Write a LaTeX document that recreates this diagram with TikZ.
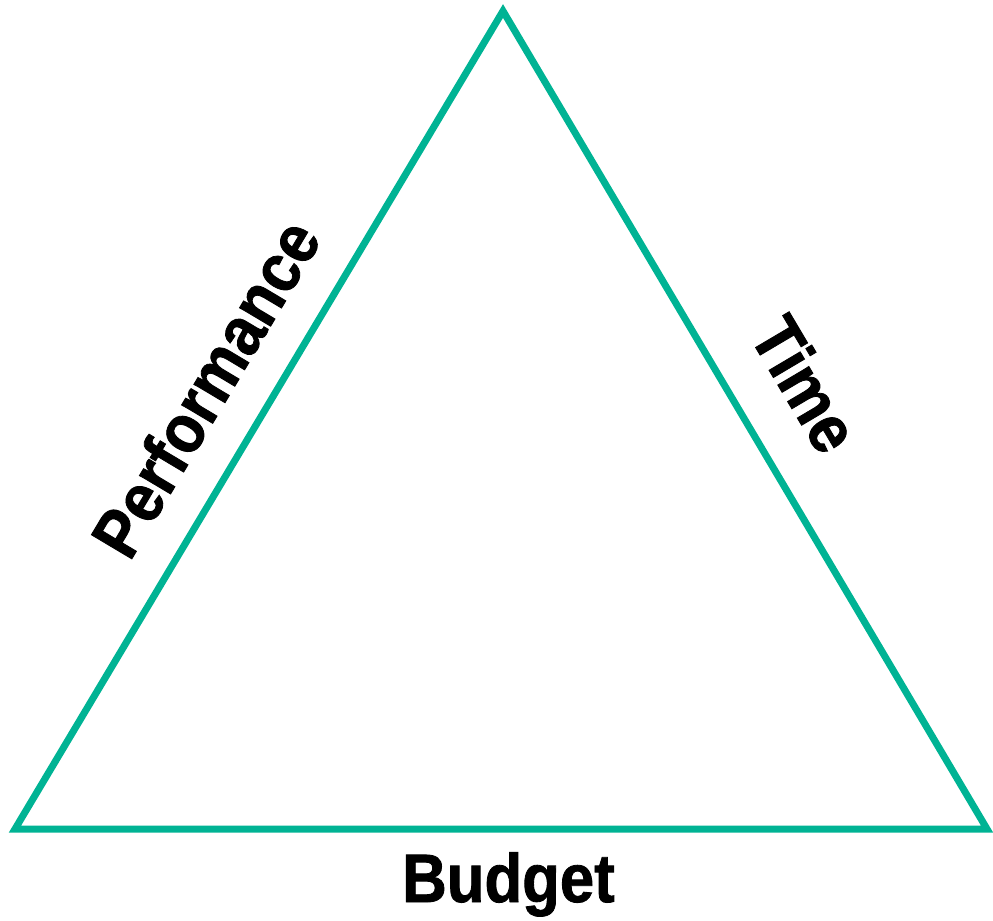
\documentclass[tikz,border=0pt]{standalone}
\usepackage{fontspec}
\setmainfont{Liberation Sans}
\newfontfamily\labelfont[FakeStretch=0.9, FakeBold=1.2]{Liberation Sans Bold}
\usetikzlibrary{calc, positioning}
\definecolor{triteal}{HTML}{00B394}

\begin{document}
\begin{tikzpicture}[
    edge label/.style={font=\labelfont\fontsize{39}{43}\selectfont, inner sep=0pt}]
      \useasboundingbox (0,0) rectangle (19.86cm,-18.42cm);
      \coordinate (top) at (10.06cm,-0.22cm);
      \coordinate (left) at (0.30cm,-16.58cm);
      \coordinate (right) at (19.74cm,-16.58cm);
      %
      \draw[color=triteal, line width=0.14cm] (left) -- (right) -- (top) -- cycle;
      %
      \path (left) -- (top) node[edge label, midway, sloped, above=0.74cm] (perf) {Performance};
      \path (top) -- (right) node[edge label, midway, sloped, above=0.9cm] (time) {Time};
      \path (left) -- (right) node[edge label, midway, below=0.46cm, xshift=0.15cm] (budget) {Budget};
\end{tikzpicture}
\end{document}
